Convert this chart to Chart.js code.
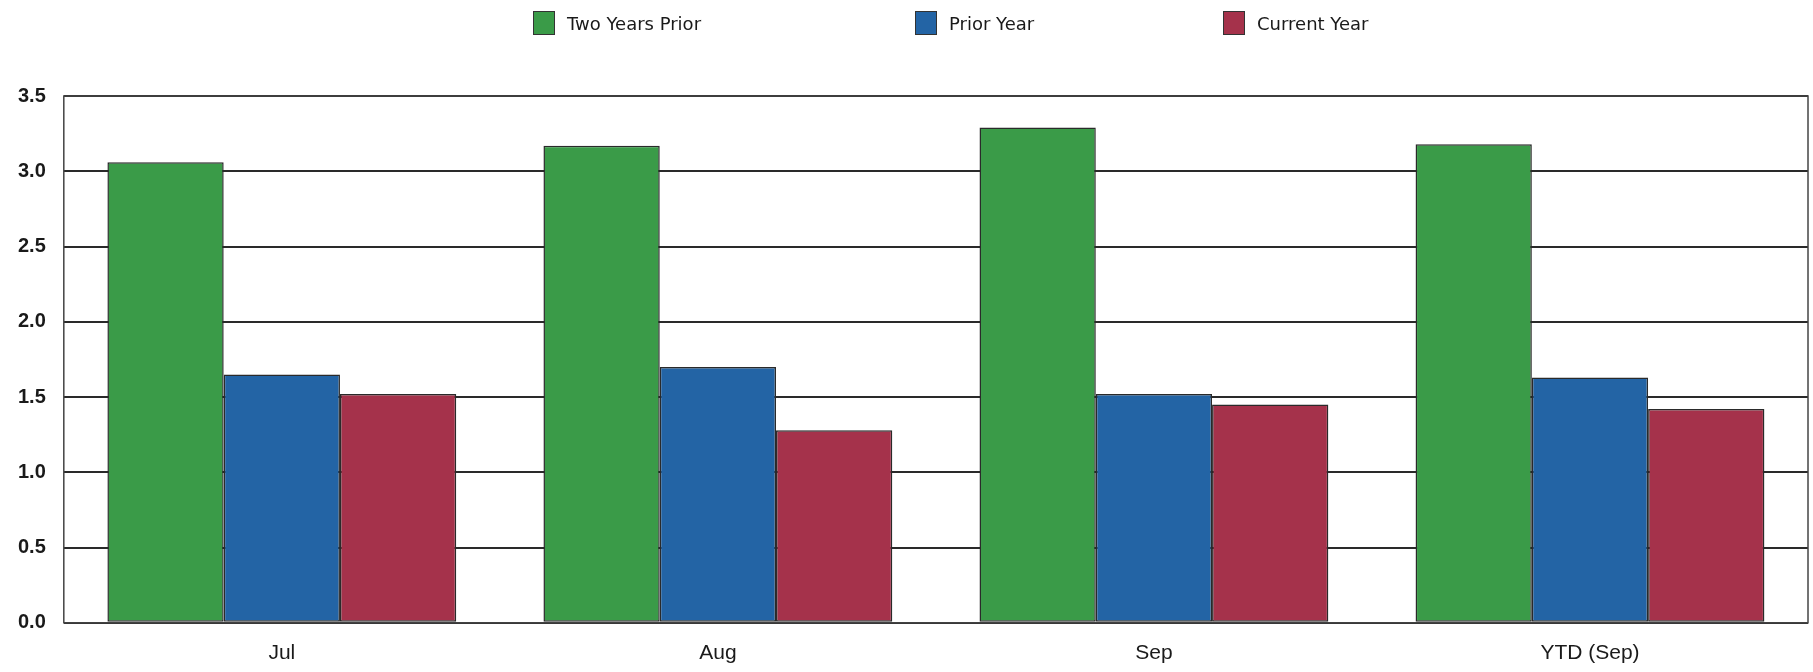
<!DOCTYPE html>
<html>
<head>
<meta charset="utf-8">
<script src="https://cdn.jsdelivr.net/npm/chart.js@4/dist/chart.umd.min.js"></script>
<style>
  html, body { margin: 0; padding: 0; background: #ffffff; }
  #wrap { position: relative; width: 1813px; height: 672px; }
  #chart { position: absolute; left: 0; top: 0; }
  .leg { position: absolute; top: 10px; height: 26px; display: flex; align-items: center;
         font-family: "DejaVu Sans", Verdana, sans-serif; font-size: 18px; color: #1a1a1a; white-space: nowrap; }
  .leg .box { width: 22px; height: 24px; border: 1.5px solid #333; margin-right: 12px; box-sizing: border-box; }
</style>
</head>
<body>
<div id="wrap">
  <canvas id="chart" width="1813" height="672"></canvas>
  <div id="legend"></div>
</div>
<script>
const categories = ['Jul', 'Aug', 'Sep', 'YTD (Sep)'];
const seriesNames = ['Two Years Prior', 'Prior Year', 'Current Year'];
const twoYearsPrior = [3.06, 3.17, 3.29, 3.18];
const priorYear = [1.65, 1.70, 1.52, 1.63];
const currentYear = [1.52, 1.28, 1.45, 1.42];
const yTickLabels = ['0.0', '0.5', '1.0', '1.5', '2.0', '2.5', '3.0', '3.5'];

const colors = ['#3a9b48', '#2364a5', '#a5324b'];
const legendX = [533, 915, 1223];

// HTML legend (custom spacing like the original)
const legendEl = document.getElementById('legend');
seriesNames.forEach((name, i) => {
  const d = document.createElement('div');
  d.className = 'leg';
  d.style.left = legendX[i] + 'px';
  d.innerHTML = '<span class="box" style="background:' + colors[i] + '"></span><span>' + name + '</span>';
  legendEl.appendChild(d);
});

const framePlugin = {
  id: 'frame',
  afterDraw(chart) {
    const a = chart.chartArea, c = chart.ctx;
    c.save();
    c.strokeStyle = '#444';
    c.lineWidth = 1.5;
    c.strokeRect(a.left, a.top, a.right - a.left, a.bottom - a.top);
    c.restore();
  }
};

const seriesData = [twoYearsPrior, priorYear, currentYear];
new Chart(document.getElementById('chart'), {
  type: 'bar',
  data: {
    labels: categories,
    datasets: seriesNames.map((n, i) => ({
      label: n,
      data: seriesData[i],
      backgroundColor: colors[i],
      borderColor: '#2a2a2a',
      borderWidth: 1.5,
      borderSkipped: false,
      categoryPercentage: 0.80,
      barPercentage: 1.0
    }))
  },
  options: {
    responsive: false,
    animation: false,
    layout: { padding: { left: 0, right: 5, top: 96, bottom: -12 } },
    plugins: { legend: { display: false }, tooltip: { enabled: false } },
    scales: {
      x: {
        grid: { display: false, drawTicks: false },
        border: { display: false },
        ticks: { padding: 18, color: '#1a1a1a', font: { family: 'Liberation Sans, Arial, sans-serif', size: 21 } }
      },
      y: {
        min: 0, max: 3.5,
        grid: { color: '#2a2a2a', lineWidth: 2, drawTicks: false },
        border: { display: false },
        ticks: {
          stepSize: 0.5, padding: 18, color: '#1a1a1a',
          font: { family: 'Liberation Sans, Arial, sans-serif', size: 20, weight: 'bold' },
          callback: (v) => yTickLabels[Math.round(v / 0.5)]
        }
      }
    }
  },
  plugins: [framePlugin]
});
</script>
</body>
</html>
